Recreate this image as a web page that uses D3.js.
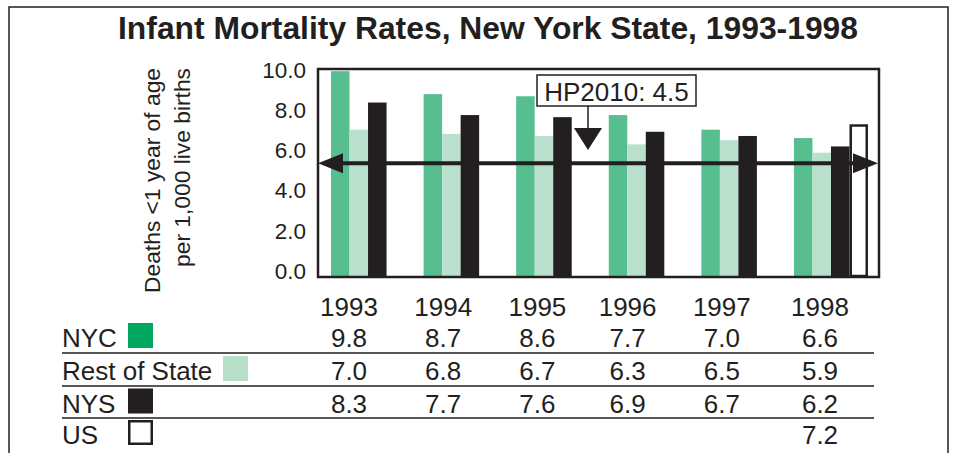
<!DOCTYPE html>
<html>
<head>
<meta charset="utf-8">
<script src="https://cdn.jsdelivr.net/npm/d3@7"></script>
<style>
  body { margin: 0; background: #fff; }
  svg text { font-family: "Liberation Sans", Arial, Helvetica, sans-serif; fill: #231f20; }
</style>
</head>
<body>
<svg id="chart" width="956" height="453"></svg>
<script>
// Data
const years = [1993, 1994, 1995, 1996, 1997, 1998];
const seriesNames = ['NYC', 'Rest of State', 'NYS', 'US'];
const nycValues = [9.8, 8.7, 8.6, 7.7, 7.0, 6.6];
const restValues = [7.0, 6.8, 6.7, 6.3, 6.5, 5.9];
const nysValues = [8.3, 7.7, 7.6, 6.9, 6.7, 6.2];
const usValues = [null, null, null, null, null, 7.2];
const yTicks = [0, 2, 4, 6, 8, 10];
const hpLabel = 'HP2010: 4.5';
// level where the objective line is drawn in the original picture
const hpLineLevel = 5.4;

const colors = {
    nycBar: '#57bf8f',
    nycSwatch: '#00a862',
    rest: '#b9e0cc',
    dark: '#231f20'
};

const valuesBySeries = [nycValues, restValues, nysValues, usValues];

const svg = d3.select('#chart');

// outer frame (bottom runs off the page)
svg.append('rect')
    .attr('x', 9).attr('y', 7).attr('width', 939).attr('height', 470)
    .attr('fill', 'none').attr('stroke', colors.dark).attr('stroke-width', 1.5);

// Title
svg.append('text')
    .attr('x', 488).attr('y', 39)
    .attr('text-anchor', 'middle')
    .attr('font-size', 31).attr('font-weight', 'bold')
    .attr('textLength', 740).attr('lengthAdjust', 'spacingAndGlyphs')
    .text('Infant Mortality Rates, New York State, 1993-1998');

// Scales
const plot = { left: 318, right: 879, top: 69, bottom: 277 };
const y = d3.scaleLinear().domain([0, 10]).range([276, 67]);
const x0 = d3.scaleBand().domain(years).range([331, 868]).paddingInner(0.2).paddingOuter(0);
const x1 = d3.scaleBand().domain(seriesNames).range([0, x0.bandwidth()]);

// Y axis labels
const yLabelScale = y.copy().range([271, 70]);
const yAxis = d3.axisLeft(yLabelScale).tickValues(yTicks).tickSize(0).tickPadding(0)
    .tickFormat(d3.format('.1f'));
const yAxisG = svg.append('g').attr('transform', 'translate(306,0)').call(yAxis);
yAxisG.select('.domain').remove();
yAxisG.selectAll('text')
    .attr('font-size', 22.5)
    .attr('font-family', '"Liberation Sans", Arial, sans-serif')
    .attr('fill', colors.dark);

// Y axis title, two lines
const yTitle = ['Deaths <1 year of age', 'per 1,000 live births'];
svg.selectAll('.ytitle')
    .data(yTitle)
    .join('text')
    .attr('class', 'ytitle')
    .attr('transform', (d, i) => `translate(${160 + i * 30},68) rotate(-90)`)
    .attr('text-anchor', 'end')
    .attr('font-size', 22.8)
    .text((d) => d);

// Bars
const barData = [];
years.forEach((year, yi) => {
    seriesNames.forEach((name, si) => {
        const v = valuesBySeries[si][yi];
        if (v !== null) barData.push({ year, name, value: v });
    });
});

const barFill = { 'NYC': colors.nycBar, 'Rest of State': colors.rest, 'NYS': colors.dark, 'US': '#fff' };

svg.append('g')
    .selectAll('rect')
    .data(barData)
    .join('rect')
    .attr('x', (d) => x0(d.year) + x1(d.name) + (d.name === 'US' ? 1.25 : 0))
    .attr('y', (d) => Math.max(y(d.value), plot.top))
    .attr('width', (d) => x1.bandwidth() - (d.name === 'US' ? 2.5 : 0))
    .attr('height', (d) => y(0) - Math.max(y(d.value), plot.top))
    .attr('fill', (d) => barFill[d.name])
    .attr('stroke', (d) => (d.name === 'US' ? colors.dark : 'none'))
    .attr('stroke-width', 2.5);

// Plot frame
svg.append('rect')
    .attr('x', plot.left).attr('y', plot.top)
    .attr('width', plot.right - plot.left).attr('height', plot.bottom - plot.top)
    .attr('fill', 'none').attr('stroke', colors.dark).attr('stroke-width', 2.5);

// HP2010 double arrow
const hpY = y(hpLineLevel);
svg.append('line')
    .attr('x1', plot.left + 10).attr('x2', plot.right - 10)
    .attr('y1', hpY).attr('y2', hpY)
    .attr('stroke', colors.dark).attr('stroke-width', 4);
svg.append('path')
    .attr('d', `M${plot.left},${hpY} L${plot.left + 25},${hpY - 10} L${plot.left + 25},${hpY + 10} Z`)
    .attr('fill', colors.dark);
svg.append('path')
    .attr('d', `M${plot.right - 1},${hpY} L${plot.right - 26},${hpY - 10} L${plot.right - 26},${hpY + 10} Z`)
    .attr('fill', colors.dark);

// HP2010 label with pointer
const hpBox = { x: 537, y: 75, w: 159, h: 31, arrowX: 588 };
svg.append('rect')
    .attr('x', hpBox.x).attr('y', hpBox.y).attr('width', hpBox.w).attr('height', hpBox.h)
    .attr('fill', '#fff').attr('stroke', colors.dark).attr('stroke-width', 1.5);
svg.append('text')
    .attr('x', hpBox.x + hpBox.w / 2).attr('y', hpBox.y + 26)
    .attr('text-anchor', 'middle').attr('font-size', 26)
    .text(hpLabel);
svg.append('line')
    .attr('x1', hpBox.arrowX).attr('x2', hpBox.arrowX)
    .attr('y1', hpBox.y + hpBox.h).attr('y2', 130)
    .attr('stroke', colors.dark).attr('stroke-width', 1.5);
svg.append('path')
    .attr('d', `M${hpBox.arrowX - 14},128 L${hpBox.arrowX + 14},128 L${hpBox.arrowX},150 Z`)
    .attr('fill', colors.dark);

// Data table
const tableX = d3.scalePoint().domain(years).range([349, 820]);
const rowBase = [347, 380, 412.5, 444];
const rowSep = [353, 386, 418];

svg.append('g')
    .selectAll('text')
    .data(years)
    .join('text')
    .attr('x', (d) => tableX(d) - (d === 1996 || d === 1997 ? 4 : 0)).attr('y', 316)
    .attr('text-anchor', 'middle').attr('font-size', 26)
    .text((d) => d);

// legend labels and swatches
const swatches = [
    { x: 128, fill: colors.nycSwatch, stroke: 'none' },
    { x: 223, fill: '#b8dfca', stroke: 'none' },
    { x: 128, fill: colors.dark, stroke: 'none' },
    { x: 129.25, fill: '#fff', stroke: colors.dark }
];

seriesNames.forEach((name, i) => {
    svg.append('text')
        .attr('x', 62).attr('y', rowBase[i])
        .attr('font-size', 26)
        .text(name);
    const s = swatches[i];
    const outline = s.stroke !== 'none';
    svg.append('rect')
        .attr('x', s.x).attr('y', rowBase[i] - 24 + (outline ? 1.25 : 0))
        .attr('width', outline ? 22.5 : 25).attr('height', outline ? 22.5 : 25)
        .attr('fill', s.fill).attr('stroke', s.stroke).attr('stroke-width', 2.5);

    svg.append('g')
        .selectAll('text')
        .data(valuesBySeries[i].map((v, j) => ({ v, year: years[j] })).filter((d) => d.v !== null))
        .join('text')
        .attr('x', (d) => tableX(d.year) - (d.year === 1996 || d.year === 1997 ? 4 : 0))
        .attr('y', rowBase[i])
        .attr('text-anchor', 'middle').attr('font-size', 26)
        .text((d) => d3.format('.1f')(d.v));
});

svg.append('g')
    .selectAll('line')
    .data(rowSep)
    .join('line')
    .attr('x1', 62).attr('x2', 874)
    .attr('y1', (d) => d).attr('y2', (d) => d)
    .attr('stroke', colors.dark).attr('stroke-width', 1.5);
</script>
</body>
</html>
